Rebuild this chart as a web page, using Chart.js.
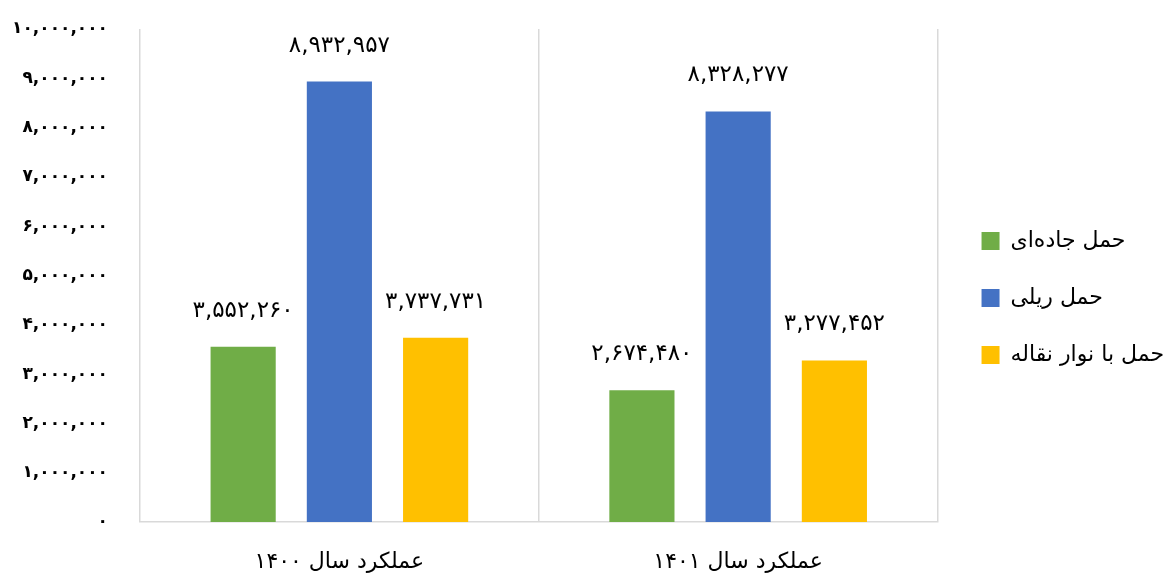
<!DOCTYPE html>
<html>
<head>
<meta charset="utf-8">
<script src="https://cdn.jsdelivr.net/npm/chart.js@4/dist/chart.umd.min.js"></script>
<style>
  body { margin:0; background:#fff; }
</style>
</head>
<body>
<canvas id="barChart" width="1168" height="575"></canvas>
<script>
// data
const years = ['عملکرد سال ۱۴۰۰', 'عملکرد سال ۱۴۰۱'];
const seriesNames = ['حمل جاده‌ای', 'حمل ریلی', 'حمل با نوار نقاله'];
const roadValues = [3552260, 2674480];
const railValues = [8932957, 8328277];
const conveyorValues = [3737731, 3277452];
const yTicks = [0, 1000000, 2000000, 3000000, 4000000, 5000000, 6000000, 7000000, 8000000, 9000000, 10000000];

const FONT = '"DejaVu Sans", sans-serif';

function toFa(n) {
    return n.toLocaleString('en-US').replace(/\d/g, d => '۰۱۲۳۴۵۶۷۸۹'[d]);
}

// labels above every bar
const barLabels = {
    id: 'barLabels',
    afterDatasetsDraw(chart) {
        const ctx = chart.ctx;
        ctx.save();
        ctx.font = '23px ' + FONT;
        ctx.fillStyle = '#000';
        ctx.textAlign = 'center';
        ctx.textBaseline = 'middle';
        chart.data.datasets.forEach((ds, i) => {
            chart.getDatasetMeta(i).data.forEach((bar, j) => {
                ctx.fillText(toFa(ds.data[j]), bar.x, bar.y - 36);
            });
        });
        ctx.restore();
    }
};

// push legend a bit away from the plot and slightly up
const legendShift = {
    id: 'legendShift',
    afterLayout(chart) {
        chart.legend.left += 9;
        chart.legend.right += 9;
        chart.legend.top -= 4;
        chart.legend.bottom -= 4;
    }
};

const ctx = document.getElementById('barChart').getContext('2d');
const chart = new Chart(ctx, {
    type: 'bar',
    data: {
        labels: years,
        datasets: [
            { label: seriesNames[0], data: roadValues, backgroundColor: '#70AD47' },
            { label: seriesNames[1], data: railValues, backgroundColor: '#4472C4' },
            { label: seriesNames[2], data: conveyorValues, backgroundColor: '#FFC000' }
        ]
    },
    options: {
        responsive: false,
        animation: false,
        layout: { padding: { left: 10, top: 29, right: 3, bottom: 0 } },
        datasets: {
            bar: { categoryPercentage: 0.724, barPercentage: 0.677 }
        },
        plugins: {
            legend: {
                position: 'right',
                labels: {
                    boxWidth: 18,
                    boxHeight: 18,
                    padding: 35,
                    color: '#000',
                    font: { family: FONT, size: 22 }
                }
            },
            tooltip: { enabled: false }
        },
        scales: {
            x: {
                grid: { display: true, color: '#d9d9d9', lineWidth: 1.5, drawTicks: false },
                border: { display: true, color: '#d9d9d9', width: 1.5 },
                ticks: { color: '#000', padding: 27, font: { family: FONT, size: 22 } },
                afterFit(scale) { scale.height = 53; }
            },
            y: {
                min: 0,
                max: 10000000,
                afterBuildTicks(scale) { scale.ticks = yTicks.map(v => ({ value: v })); },
                grid: { display: false },
                border: { display: false },
                ticks: {
                    color: '#000',
                    padding: 24,
                    font: { family: FONT, size: 17, weight: 'bold' },
                    callback: v => toFa(v)
                },
                afterFit(scale) {
                    scale.width = 130;
                    scale.paddingTop = 10;
                }
            }
        }
    },
    plugins: [barLabels, legendShift]
});
</script>
</body>
</html>
